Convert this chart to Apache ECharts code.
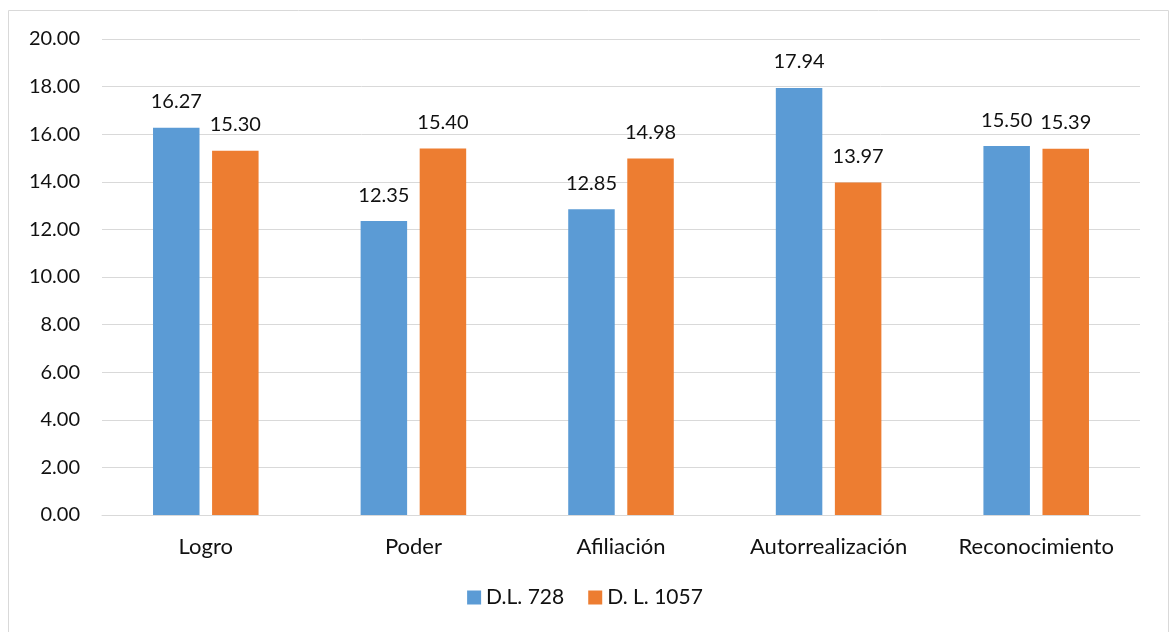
<!DOCTYPE html>
<html>
<head>
<meta charset="utf-8">
<script src="https://cdn.jsdelivr.net/npm/echarts@6/dist/echarts.min.js"></script>
<style>
  html, body { margin: 0; padding: 0; background: #fff; }
  #chart { width: 1170px; height: 632px; }
</style>
</head>
<body>
<div id="chart"></div>
<script>
const categories = ['Logro', 'Poder', 'Afiliación', 'Autorrealización', 'Reconocimiento'];
const seriesNames = ['D.L. 728', 'D. L. 1057'];
const dl728 = [16.27, 12.35, 12.85, 17.94, 15.50];
const dl1057 = [15.30, 15.40, 14.98, 13.97, 15.39];
const colors = ['#5B9BD5', '#ED7D31'];

const FONT = 'Lato, "Open Sans", sans-serif';
const TXT = '#111111';

const chart = echarts.init(document.getElementById('chart'), null, { renderer: 'canvas' });

function barSeries(name, data, color) {
  return {
    name: name,
    type: 'bar',
    data: data,
    barWidth: '22.4%',
    barGap: '27%',
    itemStyle: { color: color },
    label: {
      show: true,
      position: 'top',
      distance: 16,
      color: TXT,
      fontFamily: FONT,
      fontSize: 20,
      formatter: p => p.value.toFixed(2)
    }
  };
}

chart.setOption({
  animation: false,
  color: colors,
  graphic: [{
    type: 'rect',
    shape: { x: 8.5, y: 10.5, width: 1160, height: 625 },
    style: { fill: 'none', stroke: '#d9d9d9', lineWidth: 1 },
    silent: true
  }],
  grid: { left: 102, right: 30, top: 39, bottom: 117, containLabel: false },
  legend: {
    data: seriesNames,
    bottom: 19,
    left: 'center',
    itemWidth: 14,
    itemHeight: 14,
    itemGap: 24,
    icon: 'rect',
    textStyle: { color: TXT, fontFamily: FONT, fontSize: 21 }
  },
  xAxis: {
    type: 'category',
    data: categories,
    axisLine: { show: true, lineStyle: { color: '#d9d9d9', width: 1 } },
    axisTick: { show: false },
    axisLabel: { color: TXT, fontFamily: FONT, fontSize: 22, margin: 21 }
  },
  yAxis: {
    type: 'value',
    min: 0,
    max: 20,
    interval: 2,
    axisLine: { show: false },
    axisTick: { show: false },
    splitLine: { lineStyle: { color: '#d9d9d9', width: 1 } },
    axisLabel: {
      color: TXT, fontFamily: FONT, fontSize: 20, margin: 22,
      formatter: v => v.toFixed(2)
    }
  },
  series: [
    barSeries(seriesNames[0], dl728, colors[0]),
    barSeries(seriesNames[1], dl1057, colors[1])
  ]
});
</script>
</body>
</html>
